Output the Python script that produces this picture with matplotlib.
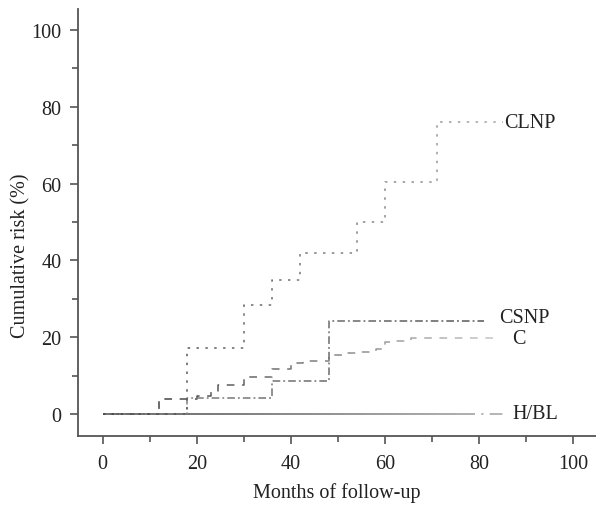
import numpy as np
import matplotlib
matplotlib.use("Agg")
import matplotlib.pyplot as plt
from matplotlib.patches import Rectangle
from matplotlib.ticker import MultipleLocator

# Cumulative risk step curves (months, %)
clnp_x = [0, 18, 30, 36, 42, 54, 60, 71, 85]
clnp_y = [0, 17.2, 28.5, 35.0, 41.9, 50.0, 60.3, 76.0, 76.0]

csnp_x = [0, 18, 36, 48, 81]
csnp_y = [0, 4.1, 8.7, 24.3, 24.3]

c_x = [0, 12, 20, 23, 24.5, 30, 36, 40, 42.5, 48, 52, 54, 58, 60, 62.5, 65.5, 84]
c_y = [0, 3.9, 4.8, 5.8, 7.6, 9.5, 11.8, 13.4, 13.9, 15.4, 15.9, 16.2, 16.9, 18.7, 19.1, 19.7, 19.7]

hbl_x = [0, 85]
hbl_y = [0, 0]

series_names = ["CLNP", "CSNP", "C", "H/BL"]

plt.rcParams['font.family'] = ['Liberation Serif', 'DejaVu Serif']

fig = plt.figure(figsize=(5.96, 5.06), dpi=100)
ax = fig.add_axes([0.1304, 0.137, 0.8696, 0.843])


def gradient_step(x, y, c0, c1, dashes, lw=1.1, nbands=40):
    # draw the same step path many times, each clipped to one x band,
    # so the dash pattern stays continuous while the grey changes
    c0 = np.array(matplotlib.colors.to_rgb(c0))
    c1 = np.array(matplotlib.colors.to_rgb(c1))
    edges = np.linspace(x[0] - 1, x[-1] + 1, nbands + 1)
    for i in range(nbands):
        t = i / (nbands - 1)
        col = (1 - t) * c0 + t * c1
        line, = ax.step(x, y, where='post', color=col, lw=lw,
                        dashes=dashes, solid_capstyle='butt')
        rect = Rectangle((edges[i], -50), edges[i + 1] - edges[i], 300,
                         transform=ax.transData)
        line.set_clip_path(rect)


# styles: colour start, colour end, dash pattern, line width, label position
styles = {
    "H/BL": ("#555555", "#b0b0b0", (206, 3.5, 1.2, 3.5, 7, 60), 1.3, (87.1, 0.0)),
    "C": ("#2a2a2a", "#c8c8c8", (5, 5), 1.1, (86.9, 19.7)),
    "CSNP": ("#8a8a8a", "#555555", (5, 2, 1.2, 2), 1.1, (84.3, 25.2)),
    "CLNP": ("#444444", "#a8a8a8", (1.6, 4.2), 1.1, (85.3, 76.0)),
}
data = {
    "CLNP": (clnp_x, clnp_y),
    "CSNP": (csnp_x, csnp_y),
    "C": (c_x, c_y),
    "H/BL": (hbl_x, hbl_y),
}

for name in ["H/BL", "C", "CSNP", "CLNP"]:
    x, y = data[name]
    c0, c1, dashes, lw, pos = styles[name]
    gradient_step(x, y, c0, c1, dashes, lw)
    ax.text(pos[0], pos[1], name, fontsize=14.5, color="#222222",
            ha='left', va='center')

ax.set_xlim(-5.3, 104.8)
ax.set_ylim(-5.65, 105.4)

ax.xaxis.set_major_locator(MultipleLocator(20))
ax.xaxis.set_minor_locator(MultipleLocator(10))
ax.yaxis.set_major_locator(MultipleLocator(20))
ax.yaxis.set_minor_locator(MultipleLocator(10))

for s in ['top', 'right']:
    ax.spines[s].set_visible(False)
for s in ['left', 'bottom']:
    ax.spines[s].set_color('#555555')
    ax.spines[s].set_linewidth(1.3)

ax.tick_params(which='major', length=5.5, width=1.2, color='#555555',
               labelsize=14.5, labelcolor='#222222', pad=6)
ax.tick_params(axis='x', which='major', pad=8)
ax.tick_params(which='minor', length=4, width=1.2, color='#555555')

ax.set_xlabel("Months of follow-up", fontsize=14.5, color='#222222', labelpad=6)
ax.set_ylabel("Cumulative risk (%)", fontsize=14.5, color='#222222')
ax.yaxis.set_label_coords(-0.092, 0.4235)

fig.savefig("out.png", dpi=100)
